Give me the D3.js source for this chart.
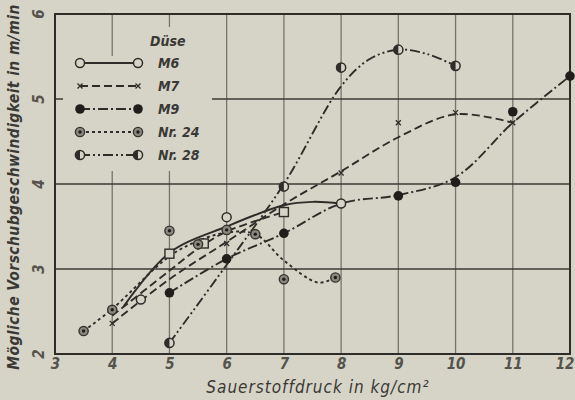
<!DOCTYPE html>
<html>
<head>
<meta charset="utf-8">
<script src="https://cdn.jsdelivr.net/npm/d3@7"></script>
<style>
  html, body { margin: 0; padding: 0; background: #d6d4c7; }
  svg { display: block; }
  text { font-family: "Liberation Sans Narrow", "DejaVu Sans Condensed", sans-serif; font-style: italic; fill: #3a3935; }
</style>
</head>
<body>
<div id="chart"></div>
<script>
 // Sauerstoffdruck vs. Vorschubgeschwindigkeit - Düsen

 // Data
    var xTicks = [3, 4, 5, 6, 7, 8, 9, 10, 11, 12];
    var yTicks = [2, 3, 4, 5, 6];

    var m6Points = [[4.5, 2.64], [6, 3.61], [8, 3.77]];
    var m6Curve = [[4.2, 2.56], [5, 3.19], [6, 3.5], [7, 3.75], [7.5, 3.79], [8, 3.77]];

    var m7Points = [[4, 2.36], [6, 3.3], [8, 4.13], [9, 4.72], [10, 4.84], [11, 4.72]];
    var m7Curve = [[4, 2.36], [5, 2.88], [6, 3.32], [7, 3.76], [8, 4.15], [9, 4.55], [10, 4.82], [11, 4.72]];

    var squarePoints = [[5, 3.18], [5.6, 3.3], [7, 3.67]];
    var squareCurve = [[4, 2.45], [5, 2.98], [5.5, 3.24], [6, 3.44], [7, 3.67]];

    var m9Points = [[5, 2.72], [6, 3.12], [7, 3.42], [9, 3.86], [10, 4.02], [11, 4.85], [12, 5.27]];
    var m9Curve = [[5, 2.72], [6, 3.12], [7, 3.42], [8, 3.77], [9, 3.87], [10, 4.08], [11, 4.72], [12, 5.27]];

    var nr24Points = [[3.5, 2.27], [4, 2.52], [5, 3.45], [5.5, 3.29], [6, 3.46], [6.5, 3.41], [7, 2.88], [7.9, 2.9]];
    var nr24Curve = [[3.5, 2.27], [4, 2.53], [5, 3.15], [5.5, 3.33], [6, 3.43], [6.5, 3.41], [7, 3.1], [7.6, 2.84], [7.9, 2.9]];

    var nr28Points = [[5, 2.13], [7, 3.97], [8, 5.37], [9, 5.58], [10, 5.39]];
    var nr28Curve = [[5, 2.13], [6, 3.05], [7, 4.0], [8, 5.15], [8.5, 5.47], [9, 5.58], [9.5, 5.53], [10, 5.39]];

    var legendNames = ['M6', 'M7', 'M9', 'Nr. 24', 'Nr. 28'];

    //
    // chart
    //

    // variables
    var w = 575;
    var h = 400;
    var ink = '#2e2d29';
    var paper = '#d6d4c7';

    var x = d3.scaleLinear().domain([3, 12]).range([55, 570]);
    var y = d3.scaleLinear().domain([2, 6]).range([354, 14]);

    var svg = d3.select('div#chart')
        .append('svg')
        .attr('width', w)
        .attr('height', h);

    // grid - vertical lighter, horizontal darker
    svg.append('g')
        .selectAll('line')
        .data(xTicks.slice(1, -1))
        .enter()
        .append('line')
        .attr('x1', function(d) { return x(d); })
        .attr('x2', function(d) { return x(d); })
        .attr('y1', y(6))
        .attr('y2', y(2))
        .attr('stroke', '#77756b')
        .attr('stroke-width', 1.3);

    svg.append('g')
        .selectAll('line')
        .data(yTicks.slice(1, -1))
        .enter()
        .append('line')
        .attr('x1', x(3))
        .attr('x2', x(12))
        .attr('y1', function(d) { return y(d); })
        .attr('y2', function(d) { return y(d); })
        .attr('stroke', '#3b3a35')
        .attr('stroke-width', 1.6);

    // legend background hides grid
    svg.append('rect')
        .attr('x', 63).attr('y', 56).attr('width', 149).attr('height', 115)
        .attr('fill', paper);
    svg.append('rect')
        .attr('x', 140).attr('y', 27).attr('width', 60).attr('height', 30)
        .attr('fill', paper);

    // frame
    svg.append('rect')
        .attr('x', x(3)).attr('y', y(6))
        .attr('width', x(12) - x(3)).attr('height', y(2) - y(6))
        .attr('fill', 'none')
        .attr('stroke', ink)
        .attr('stroke-width', 2);

    // axes labels
    var xAxis = d3.axisBottom(x).tickValues(xTicks).tickSize(0).tickPadding(4);
    var gx = svg.append('g')
        .attr('transform', 'translate(0,' + y(2) + ')')
        .call(xAxis);
    gx.select('.domain').remove();
    gx.selectAll('text')
        .style('font-size', '15px')
        .style('font-weight', 'bold')
        .style('fill', '#54534c')
        .style('font-family', '"Liberation Sans Narrow", "DejaVu Sans Condensed", sans-serif');
    // last label sits at the right edge
    gx.selectAll('.tick').filter(function(d) { return d === 12; })
        .select('text').attr('text-anchor', 'end').attr('dx', 4);

    var gy = svg.append('g');
    gy.selectAll('text')
        .data(yTicks)
        .enter()
        .append('text')
        .attr('transform', function(d) { return 'translate(44,' + y(d) + ') rotate(-90)'; })
        .attr('text-anchor', 'middle')
        .style('font-size', '15px')
        .style('font-weight', 'bold')
        .style('fill', '#54534c')
        .text(function(d) { return d; });

    svg.append('text')
        .attr('transform', 'translate(19,187) rotate(-90)')
        .attr('text-anchor', 'middle')
        .style('font-size', '15.5px')
        .style('font-weight', 'bold')
        .style('letter-spacing', '0.4px')
        .text('Mögliche Vorschubgeschwindigkeit in m/min');

    svg.append('text')
        .attr('x', 318)
        .attr('y', 393)
        .attr('text-anchor', 'middle')
        .style('font-size', '17px')
        .style('letter-spacing', '1px')
        .text('Sauerstoffdruck in kg/cm²');

    // curves
    var line = d3.line()
        .x(function(d) { return x(d[0]); })
        .y(function(d) { return y(d[1]); })
        .curve(d3.curveCatmullRom.alpha(0.5));

    var series = [
        {curve: m6Curve, dash: null},
        {curve: m7Curve, dash: '8,4'},
        {curve: squareCurve, dash: '8,4'},
        {curve: m9Curve, dash: '10,3,2,3'},
        {curve: nr24Curve, dash: '3,3'},
        {curve: nr28Curve, dash: '10,3,2,3,2,3'}
    ];

    svg.append('g')
        .selectAll('path')
        .data(series)
        .enter()
        .append('path')
        .attr('d', function(d) { return line(d.curve); })
        .attr('fill', 'none')
        .attr('stroke', ink)
        .attr('stroke-width', 1.9)
        .attr('stroke-dasharray', function(d) { return d.dash; });

    // markers
    function openCircle(g, px, py) {
        g.append('circle').attr('cx', px).attr('cy', py).attr('r', 4.5)
            .attr('fill', paper).attr('stroke', ink).attr('stroke-width', 1.5);
    }
    function filledCircle(g, px, py) {
        g.append('circle').attr('cx', px).attr('cy', py).attr('r', 4.8)
            .attr('fill', '#1f1e1b');
    }
    function dotCircle(g, px, py) {
        g.append('circle').attr('cx', px).attr('cy', py).attr('r', 4.6)
            .attr('fill', '#8a887e').attr('stroke', '#35342f').attr('stroke-width', 1.4);
        g.append('circle').attr('cx', px).attr('cy', py).attr('r', 1.7)
            .attr('fill', '#1f1e1b');
    }
    function halfCircle(g, px, py) {
        g.append('circle').attr('cx', px).attr('cy', py).attr('r', 4.6)
            .attr('fill', paper).attr('stroke', ink).attr('stroke-width', 1.5);
        g.append('path')
            .attr('d', d3.arc()({innerRadius: 0, outerRadius: 4.6, startAngle: Math.PI, endAngle: 2 * Math.PI}))
            .attr('transform', 'translate(' + px + ',' + py + ')')
            .attr('fill', ink);
    }
    function cross(g, px, py) {
        g.append('path')
            .attr('d', d3.symbol().type(d3.symbolX).size(18)())
            .attr('transform', 'translate(' + px + ',' + py + ')')
            .attr('fill', 'none').attr('stroke', ink).attr('stroke-width', 1.3);
    }
    function square(g, px, py) {
        g.append('rect').attr('x', px - 4.5).attr('y', py - 4.5)
            .attr('width', 9).attr('height', 9)
            .attr('fill', paper).attr('stroke', ink).attr('stroke-width', 1.4);
    }

    var gm = svg.append('g');
    m6Points.forEach(function(d) { openCircle(gm, x(d[0]), y(d[1])); });
    m7Points.forEach(function(d) { cross(gm, x(d[0]), y(d[1])); });
    squarePoints.forEach(function(d) { square(gm, x(d[0]), y(d[1])); });
    m9Points.forEach(function(d) { filledCircle(gm, x(d[0]), y(d[1])); });
    nr24Points.forEach(function(d) { dotCircle(gm, x(d[0]), y(d[1])); });
    nr28Points.forEach(function(d) { halfCircle(gm, x(d[0]), y(d[1])); });

    // legend
    var gl = svg.append('g');
    gl.append('text')
        .attr('x', 150).attr('y', 46)
        .style('font-size', '14px').style('font-weight', 'bold')
        .text('Düse');

    var markerFns = [openCircle, cross, filledCircle, dotCircle, halfCircle];
    var dashes = [null, '8,4', '10,3,2,3', '3,3', '10,3,2,3,2,3'];
    legendNames.forEach(function(name, i) {
        var ly = 63 + i * 23;
        gl.append('line')
            .attr('x1', 80).attr('x2', 138)
            .attr('y1', ly).attr('y2', ly)
            .attr('stroke', ink).attr('stroke-width', 1.8)
            .attr('stroke-dasharray', dashes[i]);
        markerFns[i](gl, 80, ly);
        markerFns[i](gl, 138, ly);
        gl.append('text')
            .attr('x', 158).attr('y', ly + 5)
            .style('font-size', '14px').style('font-weight', 'bold')
            .text(name);
    });

    // end of chart
</script>
</body>
</html>
